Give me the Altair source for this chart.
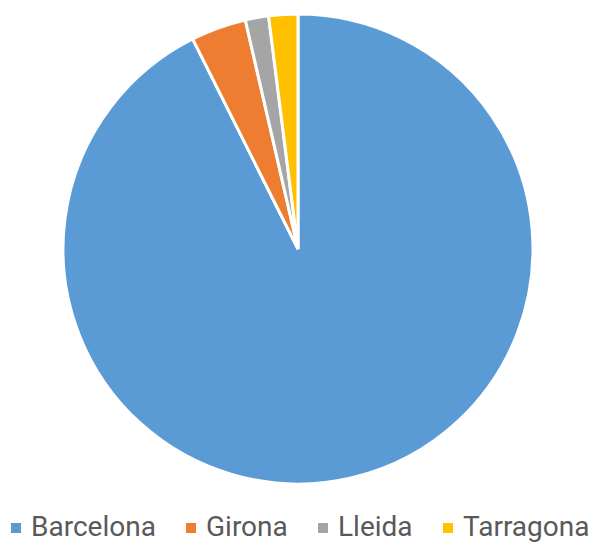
import altair as alt
import pandas as pd

provinces = ["Barcelona", "Girona", "Lleida", "Tarragona"]
shares = [92.6, 3.8, 1.6, 2.0]
colors = ["#5B9BD5", "#ED7D31", "#A5A5A5", "#FFC000"]

df = pd.DataFrame({"Provincia": provinces, "Valor": shares, "orden": list(range(len(provinces)))})

chart = alt.Chart(df).mark_arc(radius=235, stroke="white", strokeWidth=3).encode(
    theta=alt.Theta("Valor:Q", stack=True),
    order=alt.Order("orden:Q"),
    color=alt.Color(
        "Provincia:N",
        sort=provinces,
        scale=alt.Scale(domain=provinces, range=colors),
        legend=alt.Legend(
            title=None,
            orient="none",
            direction="horizontal",
            legendX=-6,
            legendY=506,
            padding=0,
            symbolType="square",
            symbolSize=100,
            symbolStrokeWidth=0,
            labelFont="Roboto",
            labelFontSize=28,
            labelColor="#595959",
            labelOffset=1,
            columnPadding=21,
            labelLimit=300,
        ),
    ),
).properties(
    width=580,
    height=482,
    autosize=alt.AutoSizeParams(type="none"),
    padding={"left": 0, "top": 0, "right": 2, "bottom": 53},
).configure_view(stroke=None)

chart.save("out.html", embed_options={"renderer": "svg", "actions": False})
